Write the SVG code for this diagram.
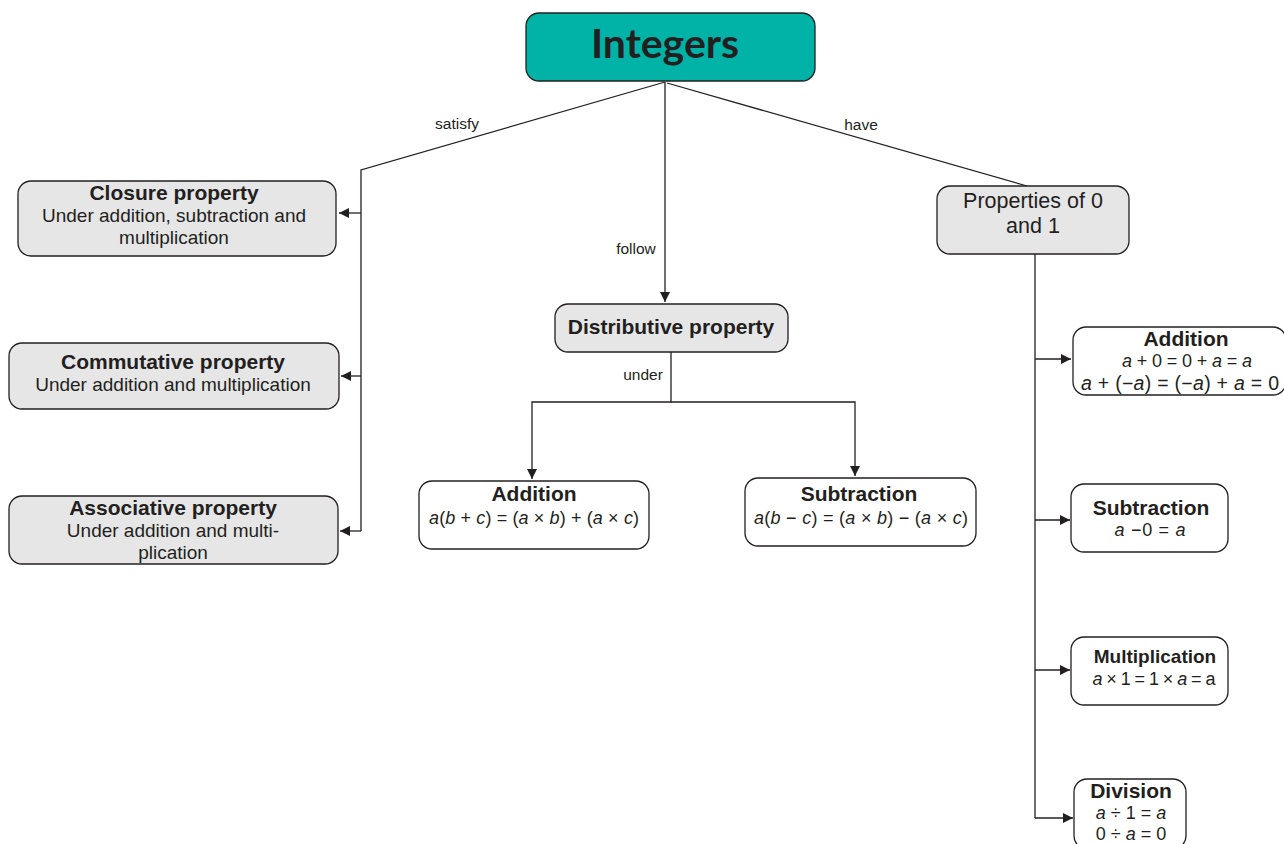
<svg xmlns="http://www.w3.org/2000/svg" width="1284" height="844" viewBox="0 0 1284 844">
<style>
.box{stroke:#231f20;stroke-width:1.3}
.gray{fill:#e6e6e7}
.white{fill:#ffffff}
.t{font-family:"Liberation Sans",Arial,sans-serif;fill:#231f20;text-anchor:middle}
.b{font-weight:bold;font-size:21px}
.r{font-size:19px}
.f{font-size:18px}
.lbl{font-family:"Liberation Sans",Arial,sans-serif;fill:#231f20;font-size:15.5px;text-anchor:middle}
.i{font-style:italic}
.ln{fill:none;stroke:#231f20;stroke-width:1.3}
</style>
<defs>
<marker id="ah" viewBox="0 0 10 10" refX="10" refY="5" markerWidth="10" markerHeight="10" markerUnits="userSpaceOnUse" orient="auto">
<path d="M0,0 L10,5 L0,10 z" fill="#231f20"/>
</marker>
</defs>
<rect width="1284" height="844" fill="#ffffff"/>
<g id="connectors">
<polyline class="ln" points="665,82 361,170 361,531"/>
<line class="ln" x1="361" y1="213" x2="339" y2="213" marker-end="url(#ah)"/>
<line class="ln" x1="361" y1="376" x2="341" y2="376" marker-end="url(#ah)"/>
<line class="ln" x1="361" y1="531" x2="340" y2="531" marker-end="url(#ah)"/>
<line class="ln" x1="665" y1="82" x2="665" y2="302" marker-end="url(#ah)"/>
<line class="ln" x1="667" y1="83" x2="1027" y2="186"/>
<polyline class="ln" points="671,352 671,402 532,402 532,479" marker-end="url(#ah)"/>
<polyline class="ln" points="671,402 855,402 855,476" marker-end="url(#ah)"/>
<line class="ln" x1="1035" y1="254" x2="1035" y2="818"/>
<line class="ln" x1="1035" y1="359" x2="1071" y2="359" marker-end="url(#ah)"/>
<line class="ln" x1="1035" y1="520" x2="1070" y2="520" marker-end="url(#ah)"/>
<line class="ln" x1="1035" y1="670" x2="1070" y2="670" marker-end="url(#ah)"/>
<line class="ln" x1="1035" y1="818" x2="1073" y2="818" marker-end="url(#ah)"/>
<text class="lbl" x="457" y="129">satisfy</text>
<text class="lbl" x="636" y="254">follow</text>
<text class="lbl" x="861" y="130">have</text>
<text class="lbl" x="643" y="380">under</text>
</g>
<g id="integers">
<rect class="box" x="526" y="13" width="289" height="68" rx="13" fill="#00b3a6"/>
<text class="t" x="665" y="58" style="font-family:Lato,'Liberation Sans',sans-serif;font-weight:bold;font-size:41px">Integers</text>
</g>
<g id="closure">
<rect class="box gray" x="18" y="181" width="318" height="75" rx="13"/>
<text class="t b" x="174" y="200">Closure property</text>
<text class="t r" x="174" y="222">Under addition, subtraction and</text>
<text class="t r" x="174" y="244">multiplication</text>
</g>
<g id="commutative">
<rect class="box gray" x="9" y="343" width="330" height="66" rx="13"/>
<text class="t b" x="173" y="369">Commutative property</text>
<text class="t r" x="173" y="391">Under addition and multiplication</text>
</g>
<g id="associative">
<rect class="box gray" x="9" y="496" width="329" height="68" rx="13"/>
<text class="t b" x="173" y="515">Associative property</text>
<text class="t r" x="173" y="537">Under addition and multi-</text>
<text class="t r" x="173" y="559">plication</text>
</g>
<g id="distributive">
<rect class="box gray" x="555" y="304" width="233" height="48" rx="13"/>
<text class="t b" x="671" y="334">Distributive property</text>
</g>
<g id="dist-addition">
<rect class="box white" x="419" y="481" width="230" height="68" rx="13"/>
<text class="t b" x="534" y="501">Addition</text>
<text class="t f" x="534" y="524" textLength="210" lengthAdjust="spacing"><tspan class="i">a</tspan>(<tspan class="i">b</tspan> + <tspan class="i">c</tspan>) = (<tspan class="i">a</tspan> × <tspan class="i">b</tspan>) + (<tspan class="i">a</tspan> × <tspan class="i">c</tspan>)</text>
</g>
<g id="dist-subtraction">
<rect class="box white" x="745" y="478" width="231" height="68" rx="13"/>
<text class="t b" x="859" y="501">Subtraction</text>
<text class="t f" x="861" y="524" textLength="214" lengthAdjust="spacing"><tspan class="i">a</tspan>(<tspan class="i">b</tspan> − <tspan class="i">c</tspan>) = (<tspan class="i">a</tspan> × <tspan class="i">b</tspan>) − (<tspan class="i">a</tspan> × <tspan class="i">c</tspan>)</text>
</g>
<g id="props01">
<rect class="box gray" x="937" y="186" width="192" height="68" rx="13"/>
<text class="t" x="1033" y="208" font-size="21.5">Properties of 0</text>
<text class="t" x="1033" y="233" font-size="21.5">and 1</text>
</g>
<g id="p-addition">
<rect class="box white" x="1073" y="327" width="213" height="68" rx="13"/>
<text class="t b" x="1186" y="346">Addition</text>
<text class="t f" x="1187" y="367" textLength="130" lengthAdjust="spacing"><tspan class="i">a</tspan> + 0 = 0 + <tspan class="i">a</tspan> = <tspan class="i">a</tspan></text>
<text class="t" x="1180" y="390" font-size="19.5" textLength="198" lengthAdjust="spacing"><tspan class="i">a</tspan> + (−<tspan class="i">a</tspan>) = (−<tspan class="i">a</tspan>) + <tspan class="i">a</tspan> = 0</text>
</g>
<g id="p-subtraction">
<rect class="box white" x="1071" y="484" width="157" height="68" rx="13"/>
<text class="t b" x="1151" y="515">Subtraction</text>
<text class="t f" x="1150" y="536" textLength="71" lengthAdjust="spacing"><tspan class="i">a</tspan> −0 = <tspan class="i">a</tspan></text>
</g>
<g id="p-multiplication">
<rect class="box white" x="1071" y="637" width="157" height="68" rx="13"/>
<text class="t" x="1155" y="663" font-weight="bold" font-size="19">Multiplication</text>
<text class="t f" x="1154" y="685" textLength="123" lengthAdjust="spacing"><tspan class="i">a</tspan> × 1 = 1 × <tspan class="i">a</tspan> = a</text>
</g>
<g id="p-division">
<rect class="box white" x="1074" y="779" width="112" height="70" rx="13"/>
<text class="t b" x="1131" y="798">Division</text>
<text class="t f" x="1131" y="819"><tspan class="i">a</tspan> ÷ 1 = <tspan class="i">a</tspan></text>
<text class="t f" x="1131" y="840">0 ÷ <tspan class="i">a</tspan> = 0</text>
</g>
</svg>
